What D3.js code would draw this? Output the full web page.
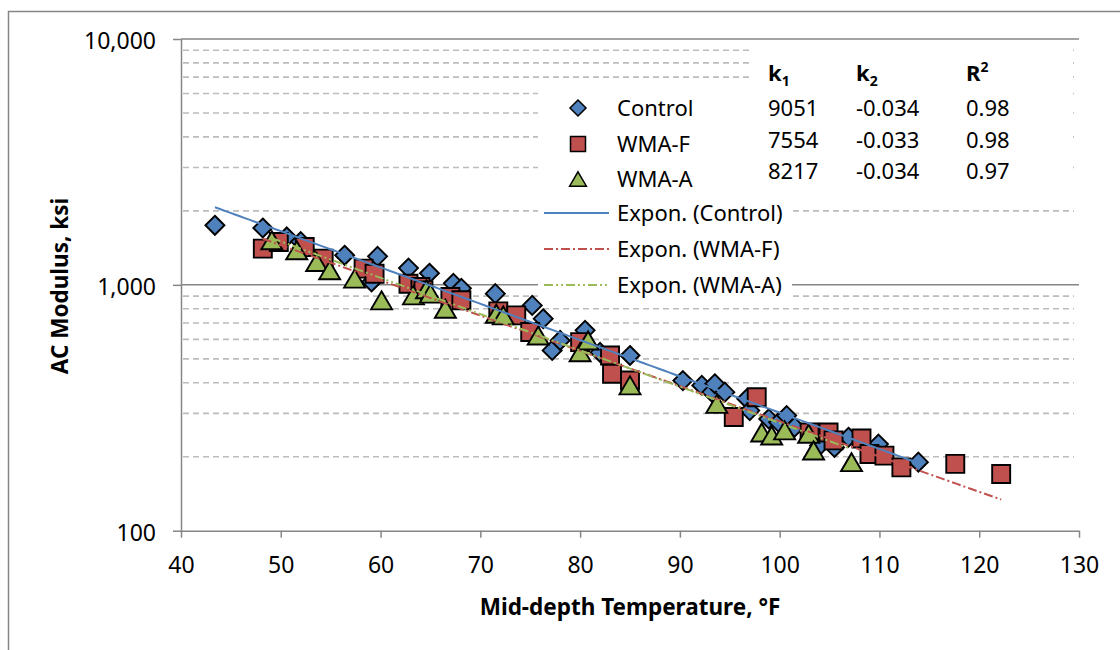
<!DOCTYPE html>
<html>
<head>
<meta charset="utf-8">
<script src="https://cdn.jsdelivr.net/npm/d3@7"></script>
<style>
  body { margin: 0; background: #fff; }
  svg text { font-family: "Noto Sans", "Open Sans", sans-serif; fill: #000; }
</style>
</head>
<body>
<div id="chart"></div>
<script>
// data
var controlTemp = [43.4, 48.2, 50.6, 52.0, 56.4, 59.1, 59.7, 62.8, 64.9, 67.3, 68.1, 71.5, 75.2, 76.3, 77.2, 78.0, 80.5, 82.0, 85.0, 90.3, 92.2, 93.2, 93.5, 94.5, 96.7, 97.0, 98.9, 99.9, 100.7, 101.5, 104.0, 105.5, 106.9, 109.9, 113.9];
var controlMod = [1747, 1703, 1566, 1500, 1319, 1027, 1306, 1170, 1115, 1014, 968, 921, 825, 728, 541, 594, 653, 531, 516, 408, 390, 366, 396, 366, 344, 308, 285, 276, 294, 264, 222, 218, 240, 225, 190];

var wmaFTemp = [48.2, 49.8, 52.4, 54.3, 58.3, 59.4, 62.8, 64.0, 64.3, 67.0, 68.1, 71.8, 73.6, 75.0, 80.0, 83.0, 83.2, 85.0, 95.4, 97.7, 103.0, 104.9, 105.4, 108.2, 109.0, 110.5, 112.2, 117.6, 122.2];
var wmaFMod = [1404, 1494, 1426, 1279, 1164, 1110, 1011, 980, 950, 892, 866, 780, 751, 643, 585, 516, 435, 408, 290, 349, 251, 251, 233, 237, 205, 202, 181, 187, 170];

var wmaATemp = [49.1, 51.6, 53.6, 54.9, 57.4, 60.1, 63.3, 64.6, 65.0, 66.5, 71.6, 72.3, 75.8, 80.0, 80.8, 85.0, 93.7, 98.2, 99.2, 100.5, 102.9, 103.4, 107.2];
var wmaAMod = [1518, 1382, 1238, 1146, 1060, 865, 906, 960, 921, 800, 763, 751, 622, 532, 594, 390, 328, 251, 244, 256, 248, 212, 190];

// fit table shown on the chart (AC modulus = k1 * exp(k2 * T))
var seriesNames = ["Control", "WMA-F", "WMA-A"];
var fitK1 = [9051, 7554, 8217];
var fitK2 = [-0.034, -0.033, -0.034];
var fitR2 = ["0.98", "0.98", "0.97"];

var xTicks = [40, 50, 60, 70, 80, 90, 100, 110, 120, 130];
var yTicks = [100, 1000, 10000];

var width = 1120;
var height = 650;

// plot area
var plotLeft = 181, plotRight = 1079, plotTop = 39, plotBottom = 530.7;

var colors = ["#4F81BD", "#C0504D", "#9BBB59"];
var dashes = [null, "9,3,2,3", "9,3,2,3,2,3"];

var svg = d3
    .select("#chart")
    .append("svg")
    .attr("width", width)
    .attr("height", height);

svg.append("rect").attr("width", width).attr("height", height).attr("fill", "#fff");

// outer chart border (only left and top fall inside the picture)
svg.append("rect")
    .attr("x", 8.5).attr("y", 11.5)
    .attr("width", 1300).attr("height", 800)
    .attr("fill", "none")
    .attr("stroke", "#868686")
    .attr("stroke-width", 1.5);

var xScale = d3.scaleLinear().domain([40, 130]).range([plotLeft, plotRight]);
var yScale = d3.scaleLog().domain([100, 10000]).range([plotBottom, plotTop]);

// minor gridlines
var minor = [];
[100, 1000].forEach(function(d) {
    for (var i = 2; i <= 9; i++) minor.push(d * i);
});

svg.append("g")
    .selectAll("line")
    .data(minor)
    .enter()
    .append("line")
    .attr("x1", plotLeft + 2)
    .attr("x2", plotRight - 5)
    .attr("y1", function(d) { return yScale(d); })
    .attr("y2", function(d) { return yScale(d); })
    .attr("stroke", "#bcbcbc")
    .attr("stroke-width", 1.6)
    .attr("stroke-dasharray", "6,4");

// major gridlines
svg.append("g")
    .selectAll("line")
    .data([1000, 10000])
    .enter()
    .append("line")
    .attr("x1", plotLeft)
    .attr("x2", plotRight)
    .attr("y1", function(d) { return yScale(d); })
    .attr("y2", function(d) { return yScale(d); })
    .attr("stroke", "#868686")
    .attr("stroke-width", 1.5);

// axes
var xAxis = d3.axisBottom(xScale).tickValues(xTicks).tickSize(7).tickPadding(19).tickSizeOuter(0);
var yAxis = d3.axisLeft(yScale).tickValues(yTicks).tickFormat(d3.format(",")).tickSize(8).tickPadding(17).tickSizeOuter(0);

var gx = svg.append("g")
    .attr("transform", "translate(0," + plotBottom + ")")
    .call(xAxis);
var gy = svg.append("g")
    .attr("transform", "translate(" + plotLeft + ",0)")
    .call(yAxis);

[gx, gy].forEach(function(g) {
    g.selectAll("path, line").attr("stroke", "#868686").attr("stroke-width", 1.5);
    g.selectAll("text")
        .attr("font-size", 23)
        .attr("font-family", "Noto Sans")
        .attr("fill", "#000");
});
gy.selectAll("text").attr("dy", "0.42em");

// axis titles
svg.append("text")
    .attr("x", (plotLeft + plotRight) / 2)
    .attr("y", 615)
    .attr("text-anchor", "middle")
    .attr("font-size", 22.5)
    .attr("font-weight", "bold")
    .text("Mid-depth Temperature, °F");

svg.append("text")
    .attr("transform", "translate(68," + 286 + ")rotate(-90)")
    .attr("text-anchor", "middle")
    .attr("font-size", 22.5)
    .attr("font-weight", "bold")
    .text("AC Modulus, ksi");

// marker shapes
function markerPath(i, s) {
    if (i === 0) return "M0," + (-s) + "L" + s + ",0L0," + s + "L" + (-s) + ",0Z";
    if (i === 1) return "M" + (-s) + "," + (-s) + "H" + s + "V" + s + "H" + (-s) + "Z";
    return "M0," + (-s * 0.9) + "L" + (s * 1.05) + "," + (s * 0.9) + "L" + (-s * 1.05) + "," + (s * 0.9) + "Z";
}
var markerSize = [9.5, 9, 10];

var allTemp = [controlTemp, wmaFTemp, wmaATemp];
var allMod = [controlMod, wmaFMod, wmaAMod];

allTemp.forEach(function(temps, i) {
    var pts = temps.map(function(t, j) { return { t: t, m: allMod[i][j] }; });
    svg.append("g")
        .selectAll("path")
        .data(pts)
        .enter()
        .append("path")
        .attr("d", markerPath(i, markerSize[i]))
        .attr("transform", function(d) {
            return "translate(" + xScale(d.t) + "," + yScale(d.m) + ")";
        })
        .attr("fill", colors[i])
        .attr("stroke", "#000")
        .attr("stroke-width", 1.9);
});

// exponential trendlines across each series' temperature range
var line = d3.line()
    .x(function(d) { return xScale(d[0]); })
    .y(function(d) { return yScale(d[1]); });

allTemp.forEach(function(temps, i) {
    var ext = d3.extent(temps);
    var pts = d3.range(ext[0], ext[1] + 0.001, 0.5).map(function(t) {
        return [t, fitK1[i] * Math.exp(fitK2[i] * t)];
    });
    svg.append("path")
        .datum(pts)
        .attr("d", line)
        .attr("fill", "none")
        .attr("stroke", colors[i])
        .attr("stroke-width", 2)
        .attr("stroke-dasharray", dashes[i]);
});

// legend
var legendRows = [108, 144, 179, 213, 249, 285];
svg.append("rect")
    .attr("x", 538).attr("y", 84)
    .attr("width", 254).attr("height", 216)
    .attr("fill", "#fff");

var legendNames = seriesNames.concat(seriesNames.map(function(n) { return "Expon. (" + n + ")"; }));
legendNames.forEach(function(name, k) {
    var cy = legendRows[k];
    if (k < 3) {
        svg.append("path")
            .attr("d", markerPath(k, k === 1 ? 7.5 : 8))
            .attr("transform", "translate(578," + cy + ")")
            .attr("fill", colors[k])
            .attr("stroke", "#000")
            .attr("stroke-width", 1.5);
    }
    else {
        svg.append("line")
            .attr("x1", 544).attr("x2", 609)
            .attr("y1", cy).attr("y2", cy)
            .attr("stroke", colors[k - 3])
            .attr("stroke-width", 2)
            .attr("stroke-dasharray", dashes[k - 3]);
    }
    svg.append("text")
        .attr("x", 617)
        .attr("y", cy + 8)
        .attr("font-size", 22)
        .text(name);
});

// fit table
svg.append("rect")
    .attr("x", 752).attr("y", 44)
    .attr("width", 318).attr("height", 152)
    .attr("fill", "#fff");

var colX = [768, 856, 966];
var head = svg.append("g").attr("font-weight", "bold").attr("font-size", 22);
var h1 = head.append("text").attr("x", colX[0]).attr("y", 81);
h1.append("tspan").text("k");
h1.append("tspan").attr("font-size", 14).attr("dy", 5).text("1");
var h2 = head.append("text").attr("x", colX[1]).attr("y", 81);
h2.append("tspan").text("k");
h2.append("tspan").attr("font-size", 14).attr("dy", 5).text("2");
var h3 = head.append("text").attr("x", colX[2]).attr("y", 81);
h3.append("tspan").text("R");
h3.append("tspan").attr("font-size", 14).attr("dy", -9).text("2");

var tableRows = [116, 148, 179];
seriesNames.forEach(function(n, i) {
    var cells = [String(fitK1[i]), fitK2[i].toFixed(3), fitR2[i]];
    cells.forEach(function(c, j) {
        svg.append("text")
            .attr("x", colX[j])
            .attr("y", tableRows[i])
            .attr("font-size", 22)
            .text(c);
    });
});
</script>
</body>
</html>
